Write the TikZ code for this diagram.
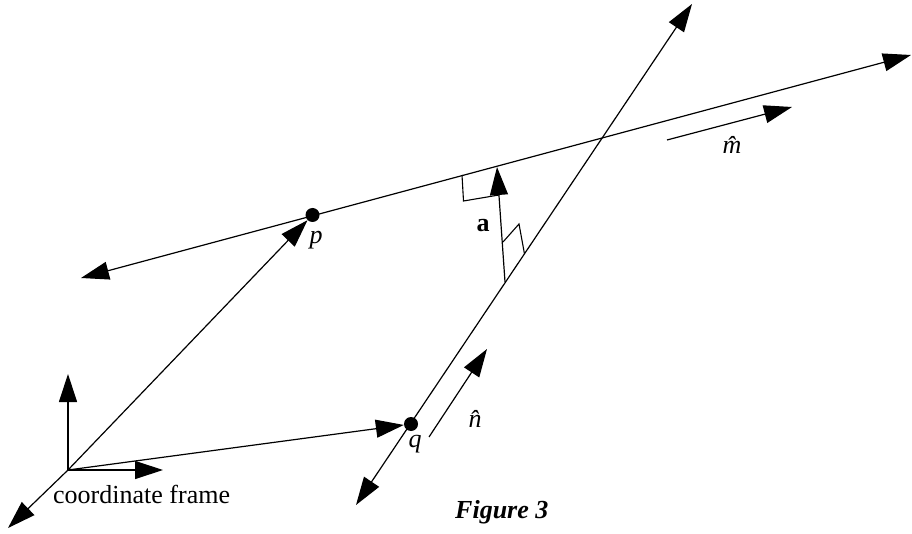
\documentclass[tikz,border=0pt]{standalone}
\usepackage{fontspec}
\setmainfont{Liberation Serif}
\usetikzlibrary{arrows.meta}
\begin{document}
\begin{tikzpicture}[x=1pt,y=-1pt,
  ln/.style={line width=1.2pt, black},
  vec/.style={ln, -{Triangle[length=28pt,width=18pt]}},
  dvec/.style={ln, {Triangle[length=28pt,width=18pt]}-{Triangle[length=28pt,width=18pt]}},
  rmark/.style={line width=1.1pt, black},
  pt/.style={circle, fill=black, inner sep=0pt, minimum size=14pt},
  lbl/.style={font=\fontsize{26}{30}\selectfont\itshape, inner sep=0pt},
  txt/.style={font=\fontsize{26}{30}\selectfont, inner sep=0pt}
]
\useasboundingbox (0,0) rectangle (912,534);
% points
\node[pt] (p) at (312.5,215) {};
\node[pt] (q) at (411,424) {};
\coordinate (O) at (68,470);
\coordinate (Oy) at (68,374);
\coordinate (Ox) at (163,470);
\coordinate (Oz) at (8,528);
\coordinate (mL) at (81,278);
\coordinate (mR) at (911,55);
\coordinate (nL) at (356,505);
\coordinate (nR) at (692,4);
\coordinate (a0) at (505,282);
\coordinate (a1) at (497,167);
\coordinate (mh0) at (667,140);
\coordinate (mh1) at (792,107);
\coordinate (nh0) at (429,437);
\coordinate (nh1) at (487,349);
\coordinate (r1a) at (462,175);
\coordinate (r1b) at (463.5,201);
\coordinate (r1c) at (499,195);
\coordinate (r2a) at (503,242);
\coordinate (r2b) at (519,224);
\coordinate (r2c) at (524.5,254);
% lines
\draw[dvec] (mL) -- (mR);
\draw[dvec] (nL) -- (nR);
% coordinate frame
\draw[vec] (O) -- (Oy);
\draw[vec] (O) -- (Ox);
\draw[vec] (O) -- (Oz);
\draw[vec] (O) -- (p);
\draw[vec] (O) -- (q);
% vector a and right-angle marks
\draw[rmark] (r1a) -- (r1b) -- (r1c);
\draw[rmark] (r2a) -- (r2b) -- (r2c);
\draw[vec] (a0) -- (a1);
% direction vectors
\draw[vec] (mh0) -- (mh1);
\draw[vec] (nh0) -- (nh1);
% labels
\node[lbl] (lp) at (316,240) {p};
\node[lbl] (lq) at (415,444) {q};
\node[txt] (la) at (483,226) {\textbf{a}};
\node[lbl] (lm) at (732,145) {\^{m}};
\node[lbl] (ln) at (475,419) {\^{n}};
\node[txt, anchor=base west] (cf) at (53,503) {coordinate frame};
\node[font=\fontsize{26}{30}\selectfont\bfseries\itshape, inner sep=0pt, anchor=base west] (fig) at (455,518) {Figure 3};
\end{tikzpicture}
\end{document}
